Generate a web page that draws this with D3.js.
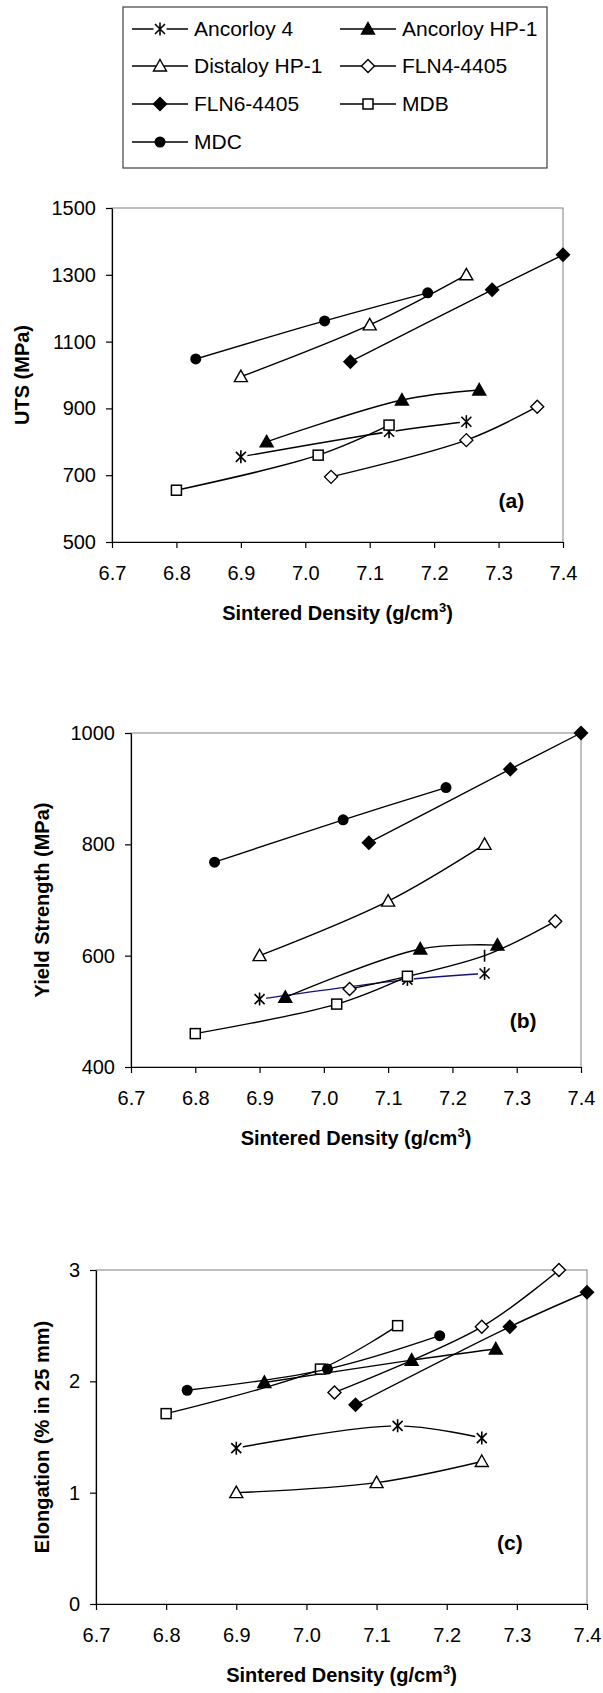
<!DOCTYPE html>
<html>
<head>
<meta charset="utf-8">
<script src="https://cdn.jsdelivr.net/npm/d3@7"></script>
<style>
  body { margin: 0; background: #fff; }
  svg text { font-family: "Liberation Sans", Arial, sans-serif; fill: #000; }
</style>
</head>
<body>
<div id="figure"></div>
<script>
// Series, in legend order
var seriesNames = ["Ancorloy 4", "Ancorloy HP-1", "Distaloy HP-1", "FLN4-4405", "FLN6-4405", "MDB", "MDC"];
var seriesMarkers = ["star", "triangleFilled", "triangleOpen", "diamondOpen", "diamondFilled", "squareOpen", "circleFilled"];

// Sintered density (g/cm3) of each series
var densAncorloy4 = [6.90, 7.13, 7.25];
var densAncorloyHP1 = [6.94, 7.15, 7.27];
var densDistaloy = [6.90, 7.10, 7.25];
var densFLN4 = [7.04, 7.25, 7.36];
var densFLN6 = [7.07, 7.29, 7.40];
var densMDB = [6.80, 7.02, 7.13];
var densMDC = [6.83, 7.03, 7.19];

// (a) UTS (MPa)
var utsAncorloy4 = [755, 830, 860];
var utsAncorloyHP1 = [800, 925, 955];
var utsDistaloy = [995, 1150, 1300];
var utsFLN4 = [695, 805, 905];
var utsFLN6 = [1040, 1255, 1360];
var utsMDB = [655, 760, 850];
var utsMDC = [1048, 1162, 1246];

// (b) Yield strength (MPa)
var ysAncorloy4 = [522, 557, 568];
var ysAncorloyHP1 = [525, 612, 619];
var ysDistaloy = [600, 698, 800];
var ysFLN4 = [540, 600, 662];
var ysFLN6 = [803, 935, 1000];
var ysMDB = [460, 513, 563];
var ysMDC = [768, 844, 902];

// (c) Elongation (% in 25 mm)
var elAncorloy4 = [1.40, 1.60, 1.49];
var elAncorloyHP1 = [1.99, 2.19, 2.29];
var elDistaloy = [1.00, 1.09, 1.28];
var elFLN4 = [1.90, 2.49, 3.00];
var elFLN6 = [1.79, 2.49, 2.80];
var elMDB = [1.71, 2.11, 2.50];
var elMDC = [1.92, 2.11, 2.41];

// tick labels
var xTicks = [6.7, 6.8, 6.9, 7.0, 7.1, 7.2, 7.3, 7.4];
var utsTicks = [500, 700, 900, 1100, 1300, 1500];
var ysTicks = [400, 600, 800, 1000];
var elTicks = [0, 1, 2, 3];

// panel letters, placed in data units
var panelLabels = ["(a)", "(b)", "(c)"];
var panelLabelPos = [[7.32, 625], [7.31, 484], [7.29, 0.55]];

var densities = [densAncorloy4, densAncorloyHP1, densDistaloy, densFLN4, densFLN6, densMDB, densMDC];

var svgWidth = 603;
var svgHeight = 1693;

var svg = d3.select("#figure").append("svg")
  .attr("width", svgWidth)
  .attr("height", svgHeight);

var panels = [
  {
    values: [utsAncorloy4, utsAncorloyHP1, utsDistaloy, utsFLN4, utsFLN6, utsMDB, utsMDC],
    domain: [500, 1500], ticks: utsTicks, title: "UTS (MPa)",
    left: 112, right: 563, top: 208, bottom: 542, titleX: 22
  },
  {
    values: [ysAncorloy4, ysAncorloyHP1, ysDistaloy, ysFLN4, ysFLN6, ysMDB, ysMDC],
    domain: [400, 1000], ticks: ysTicks, title: "Yield Strength (MPa)",
    left: 131, right: 581, top: 733, bottom: 1067, titleX: 42,
    lineColor: { "Ancorloy 4": "#14147a" },
    // point drawn only as a short vertical stroke
    bare: { "FLN4-4405": [1] }
  },
  {
    values: [elAncorloy4, elAncorloyHP1, elDistaloy, elFLN4, elFLN6, elMDB, elMDC],
    domain: [0, 3], ticks: elTicks, title: "Elongation (% in 25 mm)",
    left: 96, right: 587, top: 1270, bottom: 1604, titleX: 42
  }
];

function drawMarker(g, type, cx, cy) {
  var m = g.append("g").attr("transform", "translate(" + cx + "," + cy + ")");
  if (type === "star") {
    m.append("rect").attr("x", -6.5).attr("y", -6.5).attr("width", 13).attr("height", 13).attr("fill", "#fff");
    m.append("path")
      .attr("d", "M-5,-5L5,5M5,-5L-5,5M0,-6.5L0,6.5")
      .attr("stroke", "#000").attr("stroke-width", 1.6).attr("fill", "none");
  } else if (type === "triangleFilled" || type === "triangleOpen") {
    m.append("path").attr("d", "M0,-6.5L6.5,5L-6.5,5Z")
      .attr("fill", type === "triangleFilled" ? "#000" : "#fff")
      .attr("stroke", "#000").attr("stroke-width", 1.4);
  } else if (type === "diamondFilled" || type === "diamondOpen") {
    m.append("path").attr("d", "M0,-6.5L6.5,0L0,6.5L-6.5,0Z")
      .attr("fill", type === "diamondFilled" ? "#000" : "#fff")
      .attr("stroke", "#000").attr("stroke-width", 1.4);
  } else if (type === "squareOpen") {
    m.append("rect").attr("x", -5).attr("y", -5).attr("width", 10).attr("height", 10)
      .attr("fill", "#fff").attr("stroke", "#000").attr("stroke-width", 1.5);
  } else if (type === "circleFilled") {
    m.append("circle").attr("r", 5.5).attr("fill", "#000");
  } else if (type === "bar") {
    m.append("path").attr("d", "M0,-6L0,6").attr("stroke", "#000").attr("stroke-width", 1.6);
  }
}

panels.forEach(function (p, pi) {
  var xScale = d3.scaleLinear().domain([6.7, 7.4]).range([p.left, p.right]);
  var yScale = d3.scaleLinear().domain(p.domain).range([p.bottom, p.top]);
  var g = svg.append("g");

  // plot area border
  g.append("rect")
    .attr("x", p.left).attr("y", p.top)
    .attr("width", p.right - p.left).attr("height", p.bottom - p.top)
    .attr("fill", "none").attr("stroke", "#808080").attr("stroke-width", 1);

  // axes
  var leftAxis = d3.axisLeft(yScale).tickValues(p.ticks).tickFormat(d3.format("d"))
    .tickSize(6).tickSizeOuter(0).tickPadding(10);
  var bottomAxis = d3.axisBottom(xScale).tickValues(xTicks).tickFormat(d3.format(".1f"))
    .tickSize(6).tickSizeOuter(0).tickPadding(18);

  var ya = g.append("g").attr("transform", "translate(" + p.left + ",0)").call(leftAxis);
  var xa = g.append("g").attr("transform", "translate(0," + p.bottom + ")").call(bottomAxis);
  [ya, xa].forEach(function (a) {
    a.selectAll("path, line").attr("stroke", "#000").attr("stroke-width", 1.2);
    a.selectAll("text").attr("font-size", 20).attr("fill", "#000")
      .style("font-family", "'Liberation Sans', Arial, sans-serif");
  });

  // axis titles
  g.append("text")
    .attr("transform", "translate(" + p.titleX + "," + ((p.top + p.bottom) / 2) + ") rotate(-90)")
    .attr("text-anchor", "middle").attr("dy", "0.35em")
    .attr("font-size", 20).attr("font-weight", "bold")
    .text(p.title);

  var xt = g.append("text")
    .attr("x", (p.left + p.right) / 2).attr("y", p.bottom + 78)
    .attr("text-anchor", "middle").attr("font-size", 20).attr("font-weight", "bold");
  xt.append("tspan").text("Sintered Density (g/cm");
  xt.append("tspan").attr("font-size", 13).attr("dy", -8).text("3");
  xt.append("tspan").attr("dy", 8).text(")");

  // panel letter
  g.append("text")
    .attr("x", xScale(panelLabelPos[pi][0])).attr("y", yScale(panelLabelPos[pi][1]))
    .attr("text-anchor", "middle").attr("dy", "0.35em")
    .attr("font-size", 21).attr("font-weight", "bold")
    .text(panelLabels[pi]);

  // smoothed lines, centripetal to avoid overshoot
  var line = d3.line()
    .x(function (d) { return xScale(d[0]); })
    .y(function (d) { return yScale(d[1]); })
    .curve(d3.curveCatmullRom.alpha(0.5));

  seriesNames.forEach(function (name, si) {
    var pts = densities[si].map(function (dx, k) { return [dx, p.values[si][k]]; });
    var color = (p.lineColor && p.lineColor[name]) || "#000";
    var sg = g.append("g");
    sg.append("path").datum(pts)
      .attr("d", line)
      .attr("fill", "none").attr("stroke", color).attr("stroke-width", 1.4);
    var bare = (p.bare && p.bare[name]) || [];
    pts.forEach(function (d, k) {
      var type = bare.indexOf(k) >= 0 ? "bar" : seriesMarkers[si];
      drawMarker(sg, type, xScale(d[0]), yScale(d[1]));
    });
  });
});

// legend
var legend = svg.append("g");
legend.append("rect")
  .attr("x", 123).attr("y", 7).attr("width", 424).attr("height", 161)
  .attr("fill", "#fff").attr("stroke", "#404040").attr("stroke-width", 1.2);

var legendColX = [132, 340];
var legendRowY = [29, 66, 104, 142];
seriesNames.forEach(function (name, si) {
  var col = si % 2, row = Math.floor(si / 2);
  var x0 = legendColX[col], y0 = legendRowY[row];
  var lg = legend.append("g");
  lg.append("line").attr("x1", x0).attr("x2", x0 + 56).attr("y1", y0).attr("y2", y0)
    .attr("stroke", "#000").attr("stroke-width", 1.4);
  drawMarker(lg, seriesMarkers[si], x0 + 28, y0);
  lg.append("text").attr("x", x0 + 62).attr("y", y0).attr("dy", "0.35em")
    .attr("font-size", 21).text(name);
});
</script>
</body>
</html>
